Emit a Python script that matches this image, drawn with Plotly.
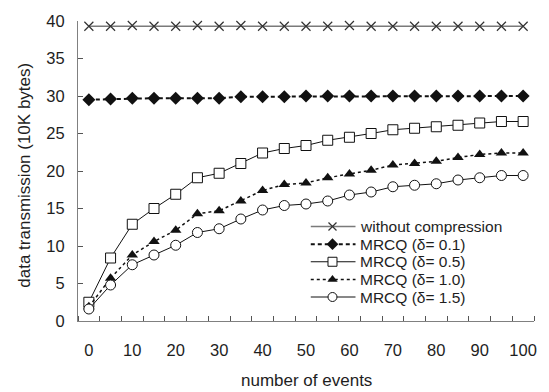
import plotly.graph_objects as go

# ---------------- data ----------------
events = [0, 5, 10, 15, 20, 25, 30, 35, 40, 45, 50, 55, 60, 65, 70, 75, 80, 85, 90, 95, 100]
no_comp = [39.3, 39.3, 39.4, 39.3, 39.3, 39.4, 39.3, 39.4, 39.3, 39.3, 39.3,
           39.3, 39.4, 39.3, 39.3, 39.3, 39.3, 39.3, 39.3, 39.3, 39.3]
mrcq_01 = [29.5, 29.6, 29.7, 29.7, 29.7, 29.7, 29.7, 29.9, 29.9, 29.9, 30.0,
           30.0, 30.0, 30.0, 30.0, 30.0, 30.0, 30.0, 30.0, 30.0, 30.0]
mrcq_05 = [2.5, 8.4, 12.9, 15.0, 16.9, 19.1, 19.7, 21.0, 22.4, 23.0, 23.4,
           24.1, 24.5, 25.0, 25.5, 25.7, 25.9, 26.1, 26.4, 26.6, 26.6]
mrcq_10 = [1.9, 5.7, 8.8, 10.6, 12.1, 14.3, 14.7, 16.0, 17.4, 18.2, 18.4,
           19.1, 19.6, 20.1, 20.8, 21.0, 21.3, 21.8, 22.2, 22.4, 22.4]
mrcq_15 = [1.6, 4.8, 7.5, 8.8, 10.1, 11.8, 12.3, 13.6, 14.8, 15.4, 15.6,
           16.0, 16.8, 17.2, 17.9, 18.1, 18.3, 18.8, 19.1, 19.4, 19.4]

series_names = ["without compression", "MRCQ (δ= 0.1)", "MRCQ (δ= 0.5)",
                "MRCQ (δ= 1.0)", "MRCQ (δ= 1.5)"]
series_values = [no_comp, mrcq_01, mrcq_05, mrcq_10, mrcq_15]

x_tick_labels = ["0", "10", "20", "30", "40", "50", "60", "70", "80", "90", "100"]
x_tick_vals = [0, 10, 20, 30, 40, 50, 60, 70, 80, 90, 100]
y_tick_vals = [0, 5, 10, 15, 20, 25, 30, 35, 40]

# ---------------- styles ----------------
FONT = "Arial, Liberation Sans, sans-serif"
TXT = "#1e1e1e"
styles = [
    dict(line=dict(color="#7a7a7a", width=1.5),
         marker=dict(symbol="x-thin", size=9, color="#333", line=dict(color="#333", width=1.2))),
    dict(line=dict(color="#111", width=2, dash="4px,3px"),
         marker=dict(symbol="diamond", size=10, color="#111", line=dict(color="#111", width=0))),
    dict(line=dict(color="#111", width=1),
         marker=dict(symbol="square", size=10, color="white", line=dict(color="#111", width=1))),
    dict(line=dict(color="#111", width=1.5, dash="3px,3px"),
         marker=dict(symbol="triangle-up", size=10, color="#111", line=dict(color="#111", width=0))),
    dict(line=dict(color="#111", width=1),
         marker=dict(symbol="circle", size=10, color="white", line=dict(color="#111", width=1))),
]

fig = go.Figure()
for name, vals, st in zip(series_names, series_values, styles):
    fig.add_trace(go.Scatter(x=events, y=vals, mode="lines+markers", name=name,
                             line=st["line"], marker=st["marker"], showlegend=False,
                             cliponaxis=False))

# ---------------- manual legend (compact, like the original) ----------------
leg_x0, leg_xm, leg_x1, leg_text_x = 51.1, 56.1, 61.4, 61.9
leg_y0, leg_step = 12.6, 2.35
annotations = []
for i, (name, st) in enumerate(zip(series_names, styles)):
    yy = leg_y0 - i * leg_step
    fig.add_trace(go.Scatter(x=[leg_x0, leg_x1], y=[yy, yy], mode="lines",
                             line=st["line"], showlegend=False, hoverinfo="skip"))
    mk = dict(st["marker"])
    mk["size"] = mk["size"] - 1
    fig.add_trace(go.Scatter(x=[leg_xm], y=[yy], mode="markers", marker=mk,
                             showlegend=False, hoverinfo="skip"))
    annotations.append(dict(x=leg_text_x, y=yy, xref="x", yref="y", text=name,
                            showarrow=False, xanchor="left", yanchor="middle",
                            font=dict(family=FONT, size=15.5, color=TXT)))

# axis titles
annotations.append(dict(x=0.5, y=-0.197, xref="paper", yref="paper",
                        text="number of events", showarrow=False,
                        xanchor="center", yanchor="middle",
                        font=dict(family=FONT, size=17, color=TXT)))
annotations.append(dict(x=-0.118, y=0.485, xref="paper", yref="paper",
                        text="data transmission (10K bytes)", showarrow=False,
                        textangle=-90, xanchor="center", yanchor="middle",
                        font=dict(family=FONT, size=17, color=TXT)))

fig.update_layout(
    width=549, height=392,
    margin=dict(l=78, r=14, t=17, b=71),
    paper_bgcolor="white", plot_bgcolor="white",
    font=dict(family=FONT, size=16, color=TXT),
    annotations=annotations,
    xaxis=dict(range=[-2.5, 102.5], tickmode="array", tickvals=x_tick_vals,
               ticktext=x_tick_labels, ticks="", showgrid=False, zeroline=False,
               showline=True, linecolor="#808080", linewidth=1.2,
               ticklabelstandoff=14,
               tickfont=dict(family=FONT, size=16.5, color=TXT),
               minor=dict(tickmode="array",
                          tickvals=[-2.5 + 5 * k for k in range(22)],
                          ticks="inside", ticklen=5, tickcolor="#555",
                          tickwidth=1, showgrid=False)),
    yaxis=dict(range=[0, 40], tickmode="array", tickvals=y_tick_vals,
               ticks="inside", ticklen=5, tickcolor="#555", tickwidth=1,
               showgrid=False, zeroline=False, showline=True,
               linecolor="#808080", linewidth=1.2, ticklabelstandoff=9,
               tickfont=dict(family=FONT, size=16.5, color=TXT)),
)

fig.write_html("out.html")
